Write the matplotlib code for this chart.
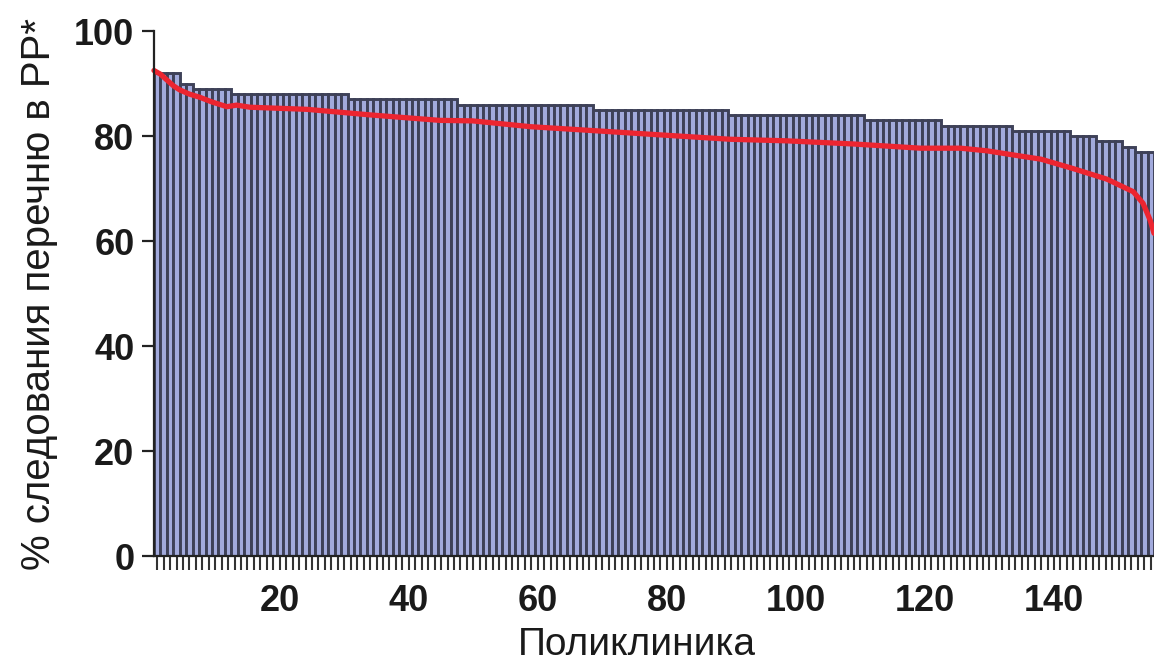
import numpy as np
import matplotlib.pyplot as plt

# steps of the sorted bar values: value and number of clinics with it
step_values = [92, 90, 89, 88, 87, 86, 85, 84, 83, 82, 81, 80, 79, 78, 77]
step_counts = [4, 2, 6, 18, 17, 21, 21, 21, 12, 11, 9, 4, 4, 2, 3]

# red curve (clinic position, %)
curve_x = [0.5, 1.5, 2.5, 3.5, 4.5, 6.0, 7.6, 9.5, 11.8, 13.3, 15.4, 24.2,
           34.4, 44.8, 49.9, 58.8, 69.2, 79.4, 89.8, 98.6, 108.9, 119.3,
           125.5, 129.6, 134.8, 138.0, 143.0, 148.2, 152.3, 153.8, 154.9, 155.5]
curve_y = [92.5, 91.8, 90.7, 89.6, 88.8, 88.0, 87.4, 86.5, 85.6, 85.9, 85.5, 85.1,
           84.0, 83.0, 82.9, 81.8, 81.0, 80.2, 79.4, 79.1, 78.5, 77.7,
           77.7, 77.2, 76.2, 75.6, 73.8, 71.8, 69.4, 67.2, 64.0, 61.5]

x_ticklabels = [20, 40, 60, 80, 100, 120, 140]

values = np.repeat(step_values, step_counts)
clinics = np.arange(1, len(values) + 1)

plt.rcParams['font.family'] = ['Liberation Sans', 'DejaVu Sans']

fig = plt.figure(figsize=(11.54, 6.62), dpi=100)
ax = fig.add_axes([0.1334, 0.160, 0.8666, 0.793])

ax.bar(clinics, values, width=1.0, color='#a2aadc', edgecolor='#3e4158',
       linewidth=2.1)
ax.plot(curve_x, curve_y, color='#ec2530', lw=3.8, solid_capstyle='round',
        clip_on=False)

ax.set_xlim(0.5, len(values) + 0.5)
ax.set_ylim(0, 100)

ax.spines['top'].set_visible(False)
ax.spines['right'].set_visible(False)
for s in ('left', 'bottom'):
    ax.spines[s].set_color('#222222')
    ax.spines[s].set_linewidth(1.6)

ax.set_yticks([0, 20, 40, 60, 80, 100])
ax.tick_params(axis='y', length=9, width=1.6, color='#222222', pad=5,
               labelsize=26)
ax.set_xticks(clinics)
ax.set_xticklabels([str(c) if c in x_ticklabels else '' for c in clinics])
ax.tick_params(axis='x', length=10, width=1.5, color='#333333', pad=10,
               labelsize=26)
for lab in ax.get_xticklabels() + ax.get_yticklabels():
    lab.set_fontweight('bold')
    lab.set_color('#1a1a1a')

ax.set_ylabel('% следования перечню в РР*', fontsize=29, labelpad=12,
              color='#1a1a1a')
ax.set_xlabel('Поликлиника', fontsize=28, color='#1a1a1a')
ax.xaxis.set_label_coords(0.483, -0.136)

fig.savefig('out.png', dpi=100)
